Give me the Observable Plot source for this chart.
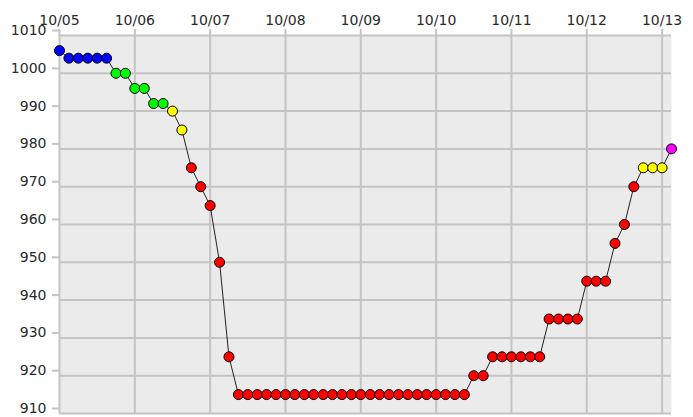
<!DOCTYPE html>
<html>
<head>
<meta charset="utf-8">
<script src="https://cdn.jsdelivr.net/npm/d3@7"></script>
<script src="https://cdn.jsdelivr.net/npm/@observablehq/plot@0.6"></script>
<style>
html, body { margin: 0; padding: 0; background: #fff; }
</style>
</head>
<body>
<div id="chart"></div>
<script>
const times = [
  "2018-10-05T00:00Z","2018-10-05T03:00Z","2018-10-05T06:00Z","2018-10-05T09:00Z","2018-10-05T12:00Z","2018-10-05T15:00Z","2018-10-05T18:00Z","2018-10-05T21:00Z",
  "2018-10-06T00:00Z","2018-10-06T03:00Z","2018-10-06T06:00Z","2018-10-06T09:00Z","2018-10-06T12:00Z","2018-10-06T15:00Z","2018-10-06T18:00Z","2018-10-06T21:00Z",
  "2018-10-07T00:00Z","2018-10-07T03:00Z","2018-10-07T06:00Z","2018-10-07T09:00Z","2018-10-07T12:00Z","2018-10-07T15:00Z","2018-10-07T18:00Z","2018-10-07T21:00Z",
  "2018-10-08T00:00Z","2018-10-08T03:00Z","2018-10-08T06:00Z","2018-10-08T09:00Z","2018-10-08T12:00Z","2018-10-08T15:00Z","2018-10-08T18:00Z","2018-10-08T21:00Z",
  "2018-10-09T00:00Z","2018-10-09T03:00Z","2018-10-09T06:00Z","2018-10-09T09:00Z","2018-10-09T12:00Z","2018-10-09T15:00Z","2018-10-09T18:00Z","2018-10-09T21:00Z",
  "2018-10-10T00:00Z","2018-10-10T03:00Z","2018-10-10T06:00Z","2018-10-10T09:00Z","2018-10-10T12:00Z","2018-10-10T15:00Z","2018-10-10T18:00Z","2018-10-10T21:00Z",
  "2018-10-11T00:00Z","2018-10-11T03:00Z","2018-10-11T06:00Z","2018-10-11T09:00Z","2018-10-11T12:00Z","2018-10-11T15:00Z","2018-10-11T18:00Z","2018-10-11T21:00Z",
  "2018-10-12T00:00Z","2018-10-12T03:00Z","2018-10-12T06:00Z","2018-10-12T09:00Z","2018-10-12T12:00Z","2018-10-12T15:00Z","2018-10-12T18:00Z","2018-10-12T21:00Z",
  "2018-10-13T00:00Z","2018-10-13T03:00Z"
];
const pressure = [
  1006,1004,1004,1004,1004,1004,1000,1000,
  996,996,992,992,990,985,975,970,
  965,950,925,915,915,915,915,915,
  915,915,915,915,915,915,915,915,
  915,915,915,915,915,915,915,915,
  915,915,915,915,920,920,925,925,
  925,925,925,925,935,935,935,935,
  945,945,945,955,960,970,975,975,
  975,980
];
const classes = [
  "TD","TD","TD","TD","TD","TD","TS","TS",
  "TS","TS","TS","TS","STS","STS","TY","TY",
  "TY","TY","TY","TY","TY","TY","TY","TY",
  "TY","TY","TY","TY","TY","TY","TY","TY",
  "TY","TY","TY","TY","TY","TY","TY","TY",
  "TY","TY","TY","TY","TY","TY","TY","TY",
  "TY","TY","TY","TY","TY","TY","TY","TY",
  "TY","TY","TY","TY","TY","TY","STS","STS",
  "STS","EX"
];
const classNames = ["TD","TS","STS","TY","EX"];
const classColors = ["#0000ff","#00ff00","#ffff00","#ff0000","#ff00ff"];
const xTickDates = ["2018-10-05","2018-10-06","2018-10-07","2018-10-08","2018-10-09","2018-10-10","2018-10-11","2018-10-12","2018-10-13"];
const xTickLabels = ["10/05","10/06","10/07","10/08","10/09","10/10","10/11","10/12","10/13"];
const yTicks = [910,920,930,940,950,960,970,980,990,1000,1010];

const data = times.map((t, i) => ({time: new Date(t), p: pressure[i], cls: classes[i]}));
const xTicks = xTickDates.map(d => new Date(d + "T00:00Z"));
const labelOf = new Map(xTicks.map((d, i) => [+d, xTickLabels[i]]));

const gridColor = "#c4c4c4";

const chart = Plot.plot({
  width: 693,
  height: 417,
  marginLeft: 59,
  marginRight: 22,
  marginTop: 35,
  marginBottom: 4,
  style: {fontFamily: "DejaVu Sans", fontSize: "14px", color: "#333", background: "#fff"},
  x: {type: "utc", domain: [data[0].time, data[data.length - 1].time], axis: null, label: null},
  y: {domain: [910, 1010], axis: null, label: null},
  color: {domain: classNames, range: classColors},
  marks: [
    Plot.frame({fill: "#ebebeb", stroke: null}),
    Plot.gridX(xTicks, {stroke: gridColor, strokeOpacity: 1, strokeWidth: 2}),
    Plot.gridY(yTicks, {stroke: gridColor, strokeOpacity: 1, strokeWidth: 2}),
    Plot.axisX(xTicks, {anchor: "top", label: null, tickSize: 7, tickPadding: 4, stroke: gridColor, strokeWidth: 2, tickFormat: d => labelOf.get(+d), fill: "#2a2a2a"}),
    Plot.axisY(yTicks, {anchor: "left", label: null, tickSize: 7, tickPadding: 6, stroke: gridColor, strokeWidth: 2, dy: -5, tickFormat: d => String(d), fill: "#2a2a2a"}),
    Plot.line(data, {x: "time", y: "p", stroke: "#222", strokeWidth: 1}),
    Plot.dot(data, {x: "time", y: "p", r: 5, fill: "cls", stroke: "#000", strokeWidth: 1})
  ]
});
document.getElementById("chart").appendChild(chart);
</script>
</body>
</html>
